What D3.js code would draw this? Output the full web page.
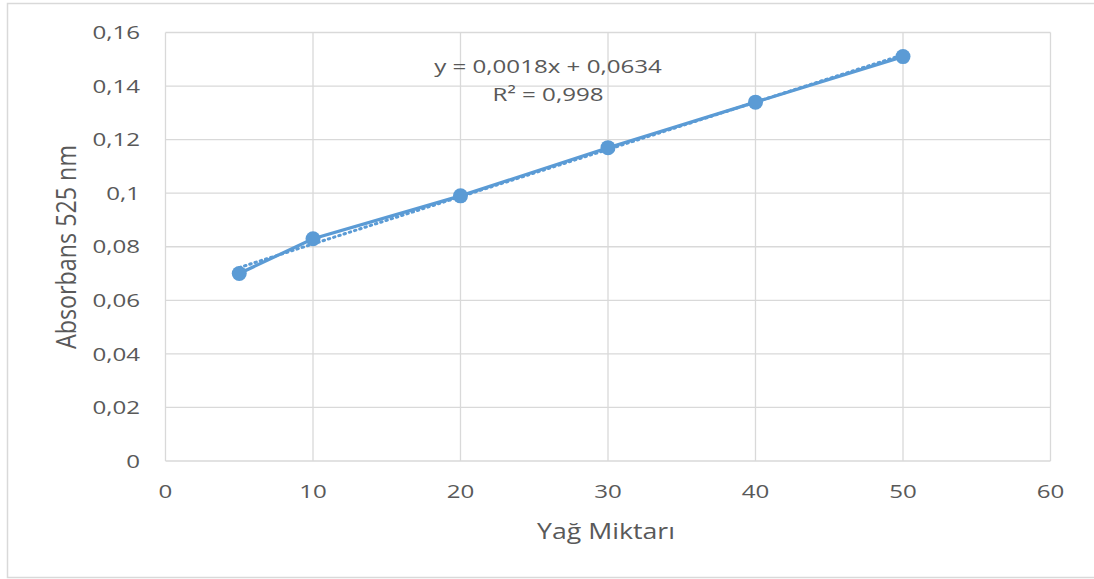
<!DOCTYPE html>
<html><head><meta charset="utf-8">
<script src="https://cdn.jsdelivr.net/npm/d3@7"></script>
<style>body{margin:0;background:#fff;} text{font-family:"Open Sans","Noto Sans",sans-serif;fill:#595959;}</style>
</head><body><svg id="c" width="1094" height="579"></svg>
<script>
const xValues = [5, 10, 20, 30, 40, 50];
const yValues = [0.070, 0.083, 0.099, 0.117, 0.134, 0.151];
const xTicks = [0, 10, 20, 30, 40, 50, 60];
const yTicks = [0, 0.02, 0.04, 0.06, 0.08, 0.1, 0.12, 0.14, 0.16];
const xTitle = "Yağ Miktarı";
const yTitle = "Absorbans 525 nm";
const eqLines = ["y = 0,0018x + 0,0634", "R² = 0,998"];

const svg = d3.select("#c");
const blue = "#5B9BD5", grid = "#d9d9d9";
const SX = 1.27;
svg.append("rect").attr("x",7.5).attr("y",3.5).attr("width",1100).attr("height",574).attr("fill","#fff").attr("stroke","#d9d9d9").attr("stroke-width",1.5);

const x = d3.scaleLinear().domain([0,60]).range([165.5,1050.5]);
const y = d3.scaleLinear().domain([0,0.16]).range([461,32.5]);
const fmt = v => (Math.round(v*100)/100).toString().replace(".", ",");

const g = svg.append("g");
g.selectAll(".hg").data(yTicks).join("line").attr("x1",x(0)).attr("x2",x(60)).attr("y1",d=>y(d)).attr("y2",d=>y(d)).attr("stroke",grid).attr("stroke-width",1.3);
g.selectAll(".vg").data(xTicks).join("line").attr("y1",y(0)).attr("y2",y(0.16)).attr("x1",d=>x(d)).attr("x2",d=>x(d)).attr("stroke",grid).attr("stroke-width",1.3);

g.selectAll(".yl").data(yTicks).join("text").attr("transform",d=>`translate(140,${y(d)}) scale(${SX},1)`).attr("dy","0.35em").attr("text-anchor","end").attr("font-size",19).text(fmt);
g.selectAll(".xl").data(xTicks).join("text").attr("transform",d=>`translate(${x(d)},498) scale(${SX},1)`).attr("text-anchor","middle").attr("font-size",19).text(d=>d);

svg.append("text").attr("transform",`translate(606,539) scale(${SX},1)`).attr("text-anchor","middle").attr("font-size",21).text(xTitle);
const yt = svg.append("text").attr("text-anchor","middle").attr("font-size",21).text(yTitle);
const len = yt.node().getComputedTextLength();
yt.attr("transform",`translate(76,247) rotate(-90) scale(${204/len},${SX})`);

// regression
const mx = d3.mean(xValues), my = d3.mean(yValues);
const slope = d3.sum(xValues.map((v,i)=>(v-mx)*(yValues[i]-my))) / d3.sum(xValues.map(v=>(v-mx)**2));
const icpt = my - slope*mx;
const x0 = d3.min(xValues), x1 = d3.max(xValues);
const data = xValues.map((v,i)=>[v,yValues[i]]);

svg.append("path").datum(data).attr("fill","none").attr("stroke",blue).attr("stroke-width",3.2)
  .attr("d", d3.line().x(d=>x(d[0])).y(d=>y(d[1])));
svg.append("line").attr("x1",x(x0)).attr("y1",y(icpt+slope*x0)).attr("x2",x(x1)).attr("y2",y(icpt+slope*x1))
  .attr("stroke",blue).attr("stroke-width",3).attr("stroke-dasharray","1.5 4").attr("stroke-linecap","round");
svg.selectAll(".pt").data(data).join("circle").attr("cx",d=>x(d[0])).attr("cy",d=>y(d[1])).attr("r",7.5).attr("fill",blue);

svg.selectAll(".eq").data(eqLines).join("text").attr("transform",(d,i)=>`translate(548,${73+i*28}) scale(${SX},1)`).attr("text-anchor","middle").attr("font-size",19).text(d=>d);
</script></body></html>
